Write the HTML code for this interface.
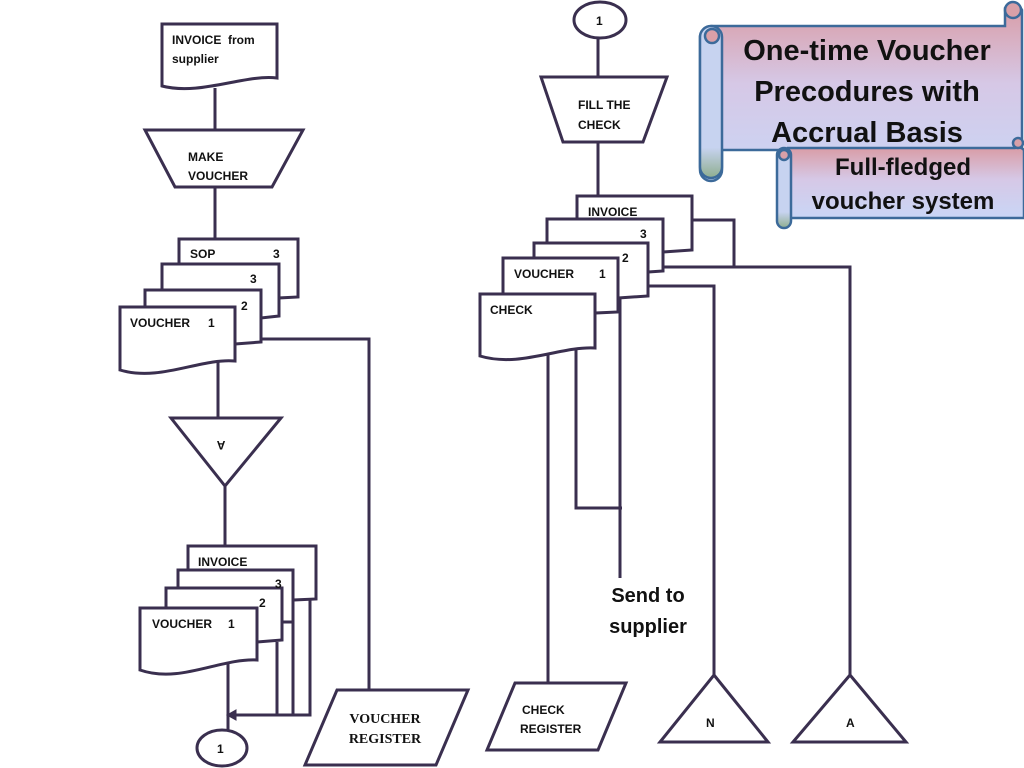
<!DOCTYPE html>
<html><head><meta charset="utf-8"><style>
html,body{margin:0;padding:0;background:#fff;width:1024px;height:768px;overflow:hidden}
svg text{font-family:"Liberation Sans",sans-serif;font-weight:bold;fill:#111}
</style></head><body>
<svg width="1024" height="768" viewBox="0 0 1024 768" xmlns="http://www.w3.org/2000/svg">
<defs>
<linearGradient id="g" x1="0" y1="0" x2="0" y2="1">
<stop offset="0" stop-color="#d99ca6"/><stop offset="0.45" stop-color="#d6c8e6"/><stop offset="1" stop-color="#c9d6f6"/>
</linearGradient>
<linearGradient id="r" x1="0" y1="0" x2="0" y2="1">
<stop offset="0" stop-color="#c7d3f0"/><stop offset="0.8" stop-color="#c7d3f0"/><stop offset="1" stop-color="#8fae8f"/>
</linearGradient>
</defs>
<g fill="#fff" stroke="#3a2f4f" stroke-width="3" stroke-linejoin="miter">
<path d="M162 24H277V78C245 74 200 96 162 86Z"/>
<line x1="215" y1="88" x2="215" y2="130"/>
<path d="M145 130H303L272 187H175Z"/>
<line x1="215" y1="187" x2="215" y2="240"/>
<path d="M179 239H298V297L278 298V264H179Z"/>
<path d="M162 264H279V316L261 318V290H162Z"/>
<path d="M145 290H261V342L235 344V307H145Z"/>
<path d="M120 307H235V361C200 358 160 382 120 370Z"/>
<polyline fill="none" points="261,339 369,339 369,690"/>
<line x1="218" y1="362" x2="218" y2="418"/>
<path d="M171 418H281L225 486Z"/>
<line x1="225" y1="486" x2="225" y2="546"/>
<path d="M188 546H316V599L293 600V570H188Z"/>
<path d="M178 570H293V622L282 622V588H178Z"/>
<path d="M166 588H282V640L257 642V608H166Z"/>
<path d="M140 608H257V660C220 658 180 684 140 670Z"/>
<polyline fill="none" points="310,600 310,715 233,715"/>
<line x1="293" y1="622" x2="293" y2="715"/>
<line x1="277" y1="642" x2="277" y2="715"/>
<path d="M227 715L236 710V720Z" fill="#3a2f4f" stroke-width="1"/>
<line x1="228" y1="662" x2="228" y2="738"/>
<ellipse cx="222" cy="748" rx="25" ry="18"/>
<path d="M337 690H468L436 765H305Z"/>
<ellipse cx="600" cy="20" rx="26" ry="18"/>
<line x1="598" y1="38" x2="598" y2="77"/>
<path d="M541 77H667L643 142H563Z"/>
<line x1="598" y1="142" x2="598" y2="196"/>
<path d="M577 196H692V250L663 252V219H577Z"/>
<path d="M547 219H663V271L648 272V243H547Z"/>
<path d="M534 243H648V296L618 298V258H534Z"/>
<path d="M503 258H618V312L595 313V294H503Z"/>
<path d="M480 294H595V348C560 346 520 368 480 356Z"/>
<polyline fill="none" points="692,220 734,220 734,267"/>
<polyline fill="none" points="663,267 850,267 850,675"/>
<polyline fill="none" points="648,286 714,286 714,675"/>
<line x1="548" y1="355" x2="548" y2="683"/>
<polyline fill="none" points="576,350 576,508 622,508"/>
<line x1="620" y1="298" x2="620" y2="578"/>
<path d="M515 683H626L598 750H487Z"/>
<path d="M714 675L768 742H660Z"/>
<path d="M850 675L906 742H793Z"/>
</g>
<g stroke="#3c6a9a" stroke-width="2.5">
<path d="M712 26H1005V8A10 10 0 0 1 1022 10V150H722V170A11 11 0 0 1 700 170V36A12 12 0 0 1 712 26Z" fill="url(#g)"/>
<rect x="700" y="26" width="22" height="152" rx="11" fill="url(#r)"/>
<circle cx="1013" cy="10" r="8" fill="#d9a0a8"/>
<circle cx="712" cy="36" r="7" fill="#d9a0a8"/>
<path d="M788 148H1015A8 8 0 0 1 1024 150V218H788Z" fill="url(#g)"/>
<rect x="777" y="148" width="14" height="80" rx="7" fill="url(#r)"/>
<circle cx="784" cy="155" r="5" fill="#d9a0a8"/>
<circle cx="1018" cy="143" r="5" fill="#d9a0a8"/>
</g>
<text x="867" y="60" font-size="29" text-anchor="middle">One-time Voucher</text>
<text x="867" y="101" font-size="29" text-anchor="middle">Precodures with</text>
<text x="867" y="142" font-size="29" text-anchor="middle">Accrual Basis</text>
<text x="903" y="175" font-size="24" text-anchor="middle">Full-fledged</text>
<text x="903" y="209" font-size="24" text-anchor="middle">voucher system</text>
<g font-size="12">
<text x="172" y="44">INVOICE</text><text x="228" y="44">from</text><text x="172" y="63">supplier</text>
<text x="188" y="161">MAKE</text><text x="188" y="180">VOUCHER</text>
<text x="190" y="258">SOP</text><text x="273" y="258">3</text>
<text x="250" y="283">3</text><text x="241" y="310">2</text>
<text x="130" y="327">VOUCHER</text><text x="208" y="327">1</text>
<text x="221" y="433" transform="rotate(180 221 437)" text-anchor="middle">A</text>
<text x="198" y="566">INVOICE</text>
<text x="275" y="588">3</text><text x="259" y="607">2</text>
<text x="152" y="628">VOUCHER</text><text x="228" y="628">1</text>
<text x="217" y="753">1</text>
<text x="596" y="25">1</text>
<text x="578" y="109">FILL THE</text><text x="578" y="129">CHECK</text>
<text x="588" y="216">INVOICE</text>
<text x="640" y="238">3</text><text x="622" y="262">2</text>
<text x="514" y="278">VOUCHER</text><text x="599" y="278">1</text>
<text x="490" y="314">CHECK</text>
<text x="522" y="714">CHECK</text><text x="520" y="733">REGISTER</text>
<text x="706" y="727">N</text><text x="846" y="727">A</text>
</g>
<text x="385" y="723" font-size="14" text-anchor="middle" style="font-family:'Liberation Serif',serif">VOUCHER</text>
<text x="385" y="743" font-size="14" text-anchor="middle" style="font-family:'Liberation Serif',serif">REGISTER</text>
<text x="648" y="602" font-size="20" text-anchor="middle">Send to</text>
<text x="648" y="633" font-size="20" text-anchor="middle">supplier</text>
</svg>
</body></html>
